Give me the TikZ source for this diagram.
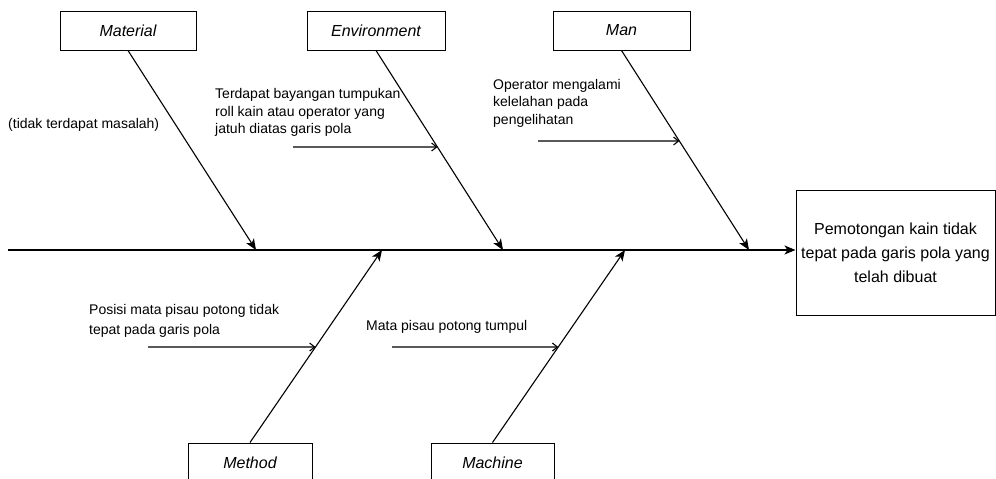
\documentclass[tikz,border=0pt]{standalone}
\usepackage{fontspec}
\setmainfont{Liberation Sans}
\usetikzlibrary{arrows.meta}
\begin{document}
\begin{tikzpicture}[x=1pt,y=-1pt,
  cat/.style={draw=black,line width=1pt,minimum height=39pt,inner sep=0pt,font=\fontsize{16}{19}\selectfont\itshape},
  effbox/.style={draw=black,line width=1pt,minimum width=199pt,minimum height=125pt,inner sep=0pt,align=center,font=\fontsize{16}{24}\selectfont},
  cause/.style={anchor=west,align=left,inner sep=0pt,font=\fontsize{14}{17.5}\selectfont},
  bone/.style={line width=1.1pt,-{Stealth[length=11pt,width=9pt,inset=3pt]}},
  spine/.style={line width=1.5pt,-{Stealth[length=11pt,width=9pt,inset=3pt]}},
  sub/.style={line width=1.1pt,-{Straight Barb[length=5pt,width=8pt]}}
]
\useasboundingbox (0,0) rectangle (996,479);
\clip (0,0) rectangle (996,479);

% category boxes
\node[cat,minimum width=136pt] (mat) at (128,30.5) {Material};
\node[cat,minimum width=138pt] (env) at (376,30.5) {Environment};
\node[cat,minimum width=137pt] (man) at (621.5,30.5) {Man};
\node[cat,minimum width=124pt] (met) at (250,462.5) {Method};
\node[cat,minimum width=123pt] (mac) at (492.5,462.5) {Machine};

% effect box
\node[effbox] (eff) at (895.5,252.5) {Pemotongan kain tidak\\tepat pada garis pola yang\\telah dibuat};

% spine
\coordinate (s0) at (8,250);
\draw[spine] (s0) -- (s0 -| eff.west);

% branch end points on spine
\coordinate (e1) at (256,250);
\coordinate (e2) at (503,250);
\coordinate (e3) at (749,250);
\coordinate (e4) at (382,250);
\coordinate (e5) at (625,250);

\draw[bone] (mat.south) -- (e1);
\draw[bone] (env.south) -- (e2);
\draw[bone] (man.south) -- (e3);
\draw[bone] (met.north) -- (e4);
\draw[bone] (mac.north) -- (e5);

% cause texts
\node[cause] (t1) at (8,125) {(tidak terdapat masalah)};
\node[cause] (t2) at (215,112.5) {Terdapat bayangan tumpukan\\roll kain atau operator yang\\jatuh diatas garis pola};
\node[cause] (t3) at (493,103) {Operator mengalami\\kelelahan pada\\pengelihatan};
\node[cause,font=\fontsize{14}{20}\selectfont] (t4) at (89,321) {Posisi mata pisau potong tidak\\tepat pada garis pola};
\node[cause] (t5) at (366,327) {Mata pisau potong tumpul};

% sub arrows
\coordinate (a2) at (293,147);
\coordinate (a3) at (538,141);
\coordinate (a4) at (148,347);
\coordinate (a5) at (392,347);
\coordinate (b2) at (intersection of env.south--e2 and 0,147--996,147);
\coordinate (b3) at (intersection of man.south--e3 and 0,141--996,141);
\coordinate (b4) at (intersection of met.north--e4 and 0,347--996,347);
\coordinate (b5) at (intersection of mac.north--e5 and 0,347--996,347);
\draw[sub] (a2) -- (b2);
\draw[sub] (a3) -- (b3);
\draw[sub] (a4) -- (b4);
\draw[sub] (a5) -- (b5);
\end{tikzpicture}
\end{document}
